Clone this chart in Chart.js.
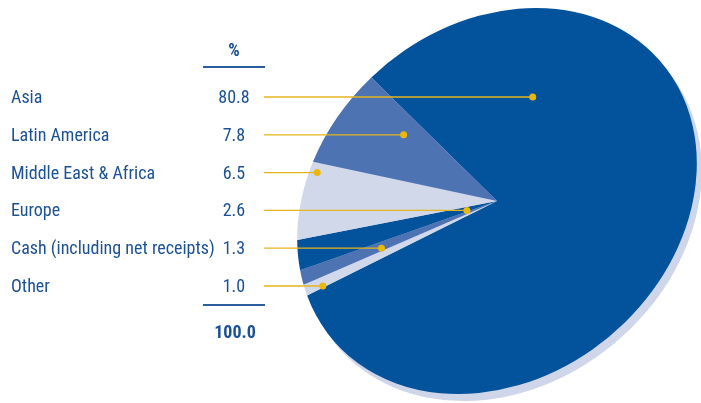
<!DOCTYPE html>
<html>
<head>
<meta charset="utf-8">
<script src="https://cdn.jsdelivr.net/npm/chart.js@4/dist/chart.umd.min.js"></script>
<style>
body{margin:0;background:#fff;}
#wrap{position:relative;width:701px;height:403px;overflow:hidden;}
#pie{position:absolute;left:0;top:0;}
.t{position:absolute;font-family:"Liberation Sans Narrow","Roboto Condensed","Liberation Sans",sans-serif;font-size:18px;color:#1b5195;line-height:20px;white-space:nowrap;}
.v{width:60px;text-align:center;}
.b{font-weight:bold;}
.rule{position:absolute;left:203px;width:62px;height:2px;background:#2a5d9e;}
</style>
</head>
<body>
<div id="wrap">
<canvas id="pie" width="701" height="403"></canvas>
</div>
<script>
var categories = ['Asia', 'Latin America', 'Middle East & Africa', 'Europe', 'Cash (including net receipts)', 'Other'];
var shares = [80.8, 7.8, 6.5, 2.6, 1.3, 1.0];
var valueLabels = ['80.8', '7.8', '6.5', '2.6', '1.3', '1.0'];
var unitLabel = '%';
var totalLabel = '100.0';

// styles
var colours = ['#02539b', '#4e73b3', '#d0d8ea', '#02539b', '#4e73b3', '#d0d8ea'];
var drawOrder = [0, 5, 4, 3, 2, 1]; // clockwise round the pie from the Asia edge
var anchorFrac = [0.2, 0.73, 0.877, 0.25, 0.3, 0.15]; // where the dot sits across each slice
var ellipse = {major: 215, minor: 176, tilt: -40, shadowDx: 5, shadowDy: 7};
var rowTop = 97, rowStep = 37.8, lineStartX = 264;

var wrap = document.getElementById('wrap');
function addText(txt, cls, x, y) {
  var d = document.createElement('div');
  d.className = 't ' + cls;
  d.textContent = txt;
  d.style.left = x + 'px';
  d.style.top = (y - 10) + 'px';
  wrap.appendChild(d);
}
function addRule(y) {
  var d = document.createElement('div');
  d.className = 'rule';
  d.style.top = (y - 1) + 'px';
  wrap.appendChild(d);
}
addText(unitLabel, 'v b', 204, 50);
addRule(67);
for (var i = 0; i < categories.length; i++) {
  addText(categories[i], '', 11, rowTop + i * rowStep);
  addText(valueLabels[i], 'v', 204, rowTop + i * rowStep);
}
addRule(305);
addText(totalLabel, 'v b', 205, 332);

function tiltCtx(ctx, arc) {
  var r = arc.outerRadius;
  ctx.translate(arc.x, arc.y);
  ctx.rotate(ellipse.tilt * Math.PI / 180);
  ctx.scale(ellipse.major / r, ellipse.minor / r);
  ctx.translate(-arc.x, -arc.y);
}

var tiltPlugin = {
  id: 'tilt',
  beforeDatasetsDraw: function (chart) {
    var ctx = chart.ctx;
    var arc = chart.getDatasetMeta(0).data[0];
    ctx.save();
    ctx.translate(ellipse.shadowDx, ellipse.shadowDy);
    tiltCtx(ctx, arc);
    ctx.beginPath();
    ctx.arc(arc.x, arc.y, arc.outerRadius, 0, Math.PI * 2);
    ctx.fillStyle = '#cfd6ea';
    ctx.fill();
    ctx.restore();
    ctx.save();
    tiltCtx(ctx, arc);
  },
  afterDatasetsDraw: function (chart) {
    var ctx = chart.ctx;
    ctx.restore();
    var meta = chart.getDatasetMeta(0);
    var t = ellipse.tilt * Math.PI / 180;
    for (var i = 0; i < categories.length; i++) {
      var arc = meta.data[drawOrder.indexOf(i)];
      var a = arc.startAngle + anchorFrac[i] * (arc.endAngle - arc.startAngle);
      var ux = Math.cos(a) * ellipse.major, uy = Math.sin(a) * ellipse.minor;
      var dx = ux * Math.cos(t) - uy * Math.sin(t);
      var dy = ux * Math.sin(t) + uy * Math.cos(t);
      var rowY = rowTop + i * rowStep;
      var s = (rowY - arc.y) / dy;
      var px = arc.x + s * dx;
      ctx.beginPath();
      ctx.moveTo(lineStartX, rowY);
      ctx.lineTo(px, rowY);
      ctx.lineWidth = 1.3;
      ctx.strokeStyle = '#e6b41e';
      ctx.stroke();
      ctx.beginPath();
      ctx.arc(px, rowY, 3.5, 0, Math.PI * 2);
      ctx.fillStyle = '#ebb70c';
      ctx.fill();
    }
  }
};

new Chart(document.getElementById('pie'), {
  type: 'pie',
  data: {
    labels: drawOrder.map(function (k) { return categories[k]; }),
    datasets: [{
      data: drawOrder.map(function (k) { return shares[k]; }),
      backgroundColor: drawOrder.map(function (k) { return colours[k]; }),
      borderWidth: 0,
      clip: false
    }]
  },
  options: {
    responsive: false,
    devicePixelRatio: 1,
    animation: false,
    events: [],
    rotation: -4.5,
    layout: {padding: {left: 307, right: 14, top: 11, bottom: 12}},
    plugins: {legend: {display: false}, tooltip: {enabled: false}}
  },
  plugins: [tiltPlugin]
});
</script>
</body>
</html>
